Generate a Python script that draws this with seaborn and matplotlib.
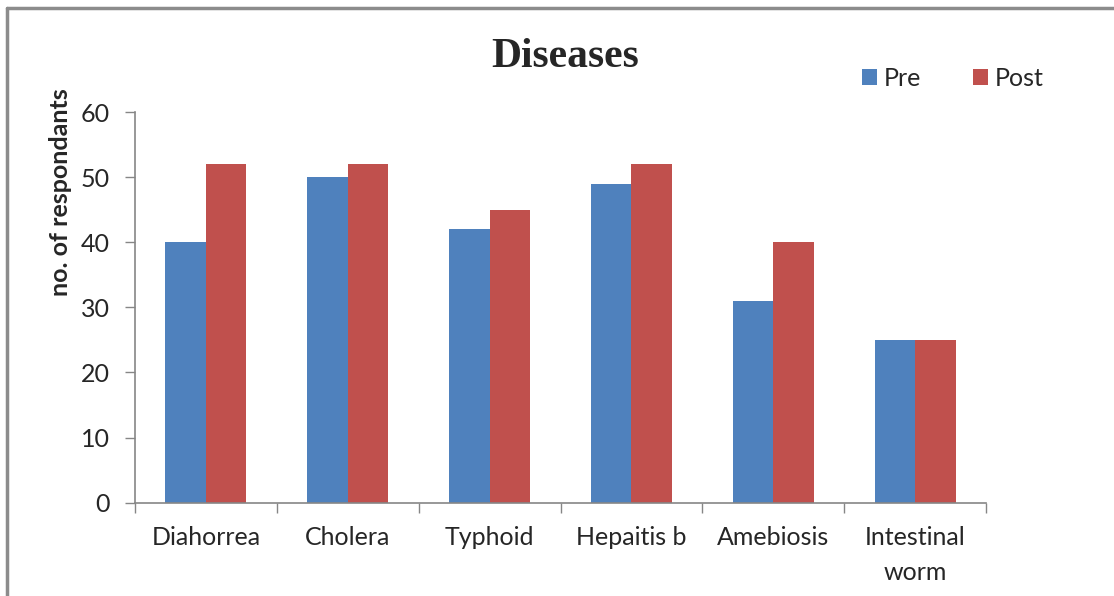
import pandas as pd
import matplotlib.pyplot as plt
import seaborn as sns
from matplotlib.lines import Line2D


# Данные с графика
diseases = ['Diahorrea', 'Cholera', 'Typhoid', 'Hepaitis b', 'Amebiosis', 'Intestinal\nworm']
pre = [40, 50, 42, 49, 31, 25]
post = [52, 52, 45, 52, 40, 25]

df = pd.DataFrame({
    'disease': diseases * 2,
    'count': pre + post,
    'stage': ['Pre'] * len(pre) + ['Post'] * len(post),
})

sns.set_style('white')
plt.rcParams['font.family'] = ['Lato', 'DejaVu Sans']

fig = plt.figure(figsize=(11.14, 5.96), dpi=100)
ax = fig.add_axes([135 / 1114, 93.3 / 596, 851 / 1114, 390.7 / 596])

sns.barplot(data=df, x='disease', y='count', hue='stage', order=diseases,
            palette={'Pre': '#4F81BD', 'Post': '#C0504D'}, width=0.57,
            saturation=1, linewidth=0, ax=ax)

ax.set_ylim(0, 60)
ax.set_xlim(-0.5, len(diseases) - 0.5)
ax.set_yticks(range(0, 61, 10))
ax.tick_params(axis='y', labelsize=18, length=7, width=1, color='#868686',
               pad=11, left=True)
ax.tick_params(axis='x', which='major', labelsize=18, length=0, pad=17)
for lbl in ax.get_xticklabels():
    lbl.set_linespacing(1.6)
ax.set_xticks([i - 0.5 for i in range(len(diseases) + 1)], minor=True)
ax.tick_params(axis='x', which='minor', length=7, width=1, color='#868686',
               bottom=True, direction='out')

for s in ['top', 'right']:
    ax.spines[s].set_visible(False)
for s in ['left', 'bottom']:
    ax.spines[s].set_color('#868686')
    ax.spines[s].set_linewidth(1.2)

ax.set_xlabel('')
ax.set_ylabel('no. of respondants', fontsize=18, fontweight='bold')
ax.yaxis.set_label_coords(-0.074, 0.795)

fig.text(565 / 1114, 1 - 57 / 596, 'Diseases', family='Liberation Serif',
         fontsize=30, fontweight='bold', ha='center', va='center')

ax.legend(loc='upper left', bbox_to_anchor=(862 / 1114, 1 - 67 / 596),
          bbox_transform=fig.transFigure, ncol=2, frameon=False,
          fontsize=18, handlelength=0.6, handleheight=0.6,
          handletextpad=0.25, columnspacing=2.1,
          borderpad=0, borderaxespad=0)

# рамка вокруг диаграммы
fig.add_artist(Line2D([7 / 1114, 7 / 1114], [0, 1 - 8 / 596],
                      transform=fig.transFigure, color='#8c8c8c', lw=2.5))
fig.add_artist(Line2D([7 / 1114, 1], [1 - 8 / 596, 1 - 8 / 596],
                      transform=fig.transFigure, color='#8c8c8c', lw=2.5))

plt.savefig('out.png', dpi=100)
